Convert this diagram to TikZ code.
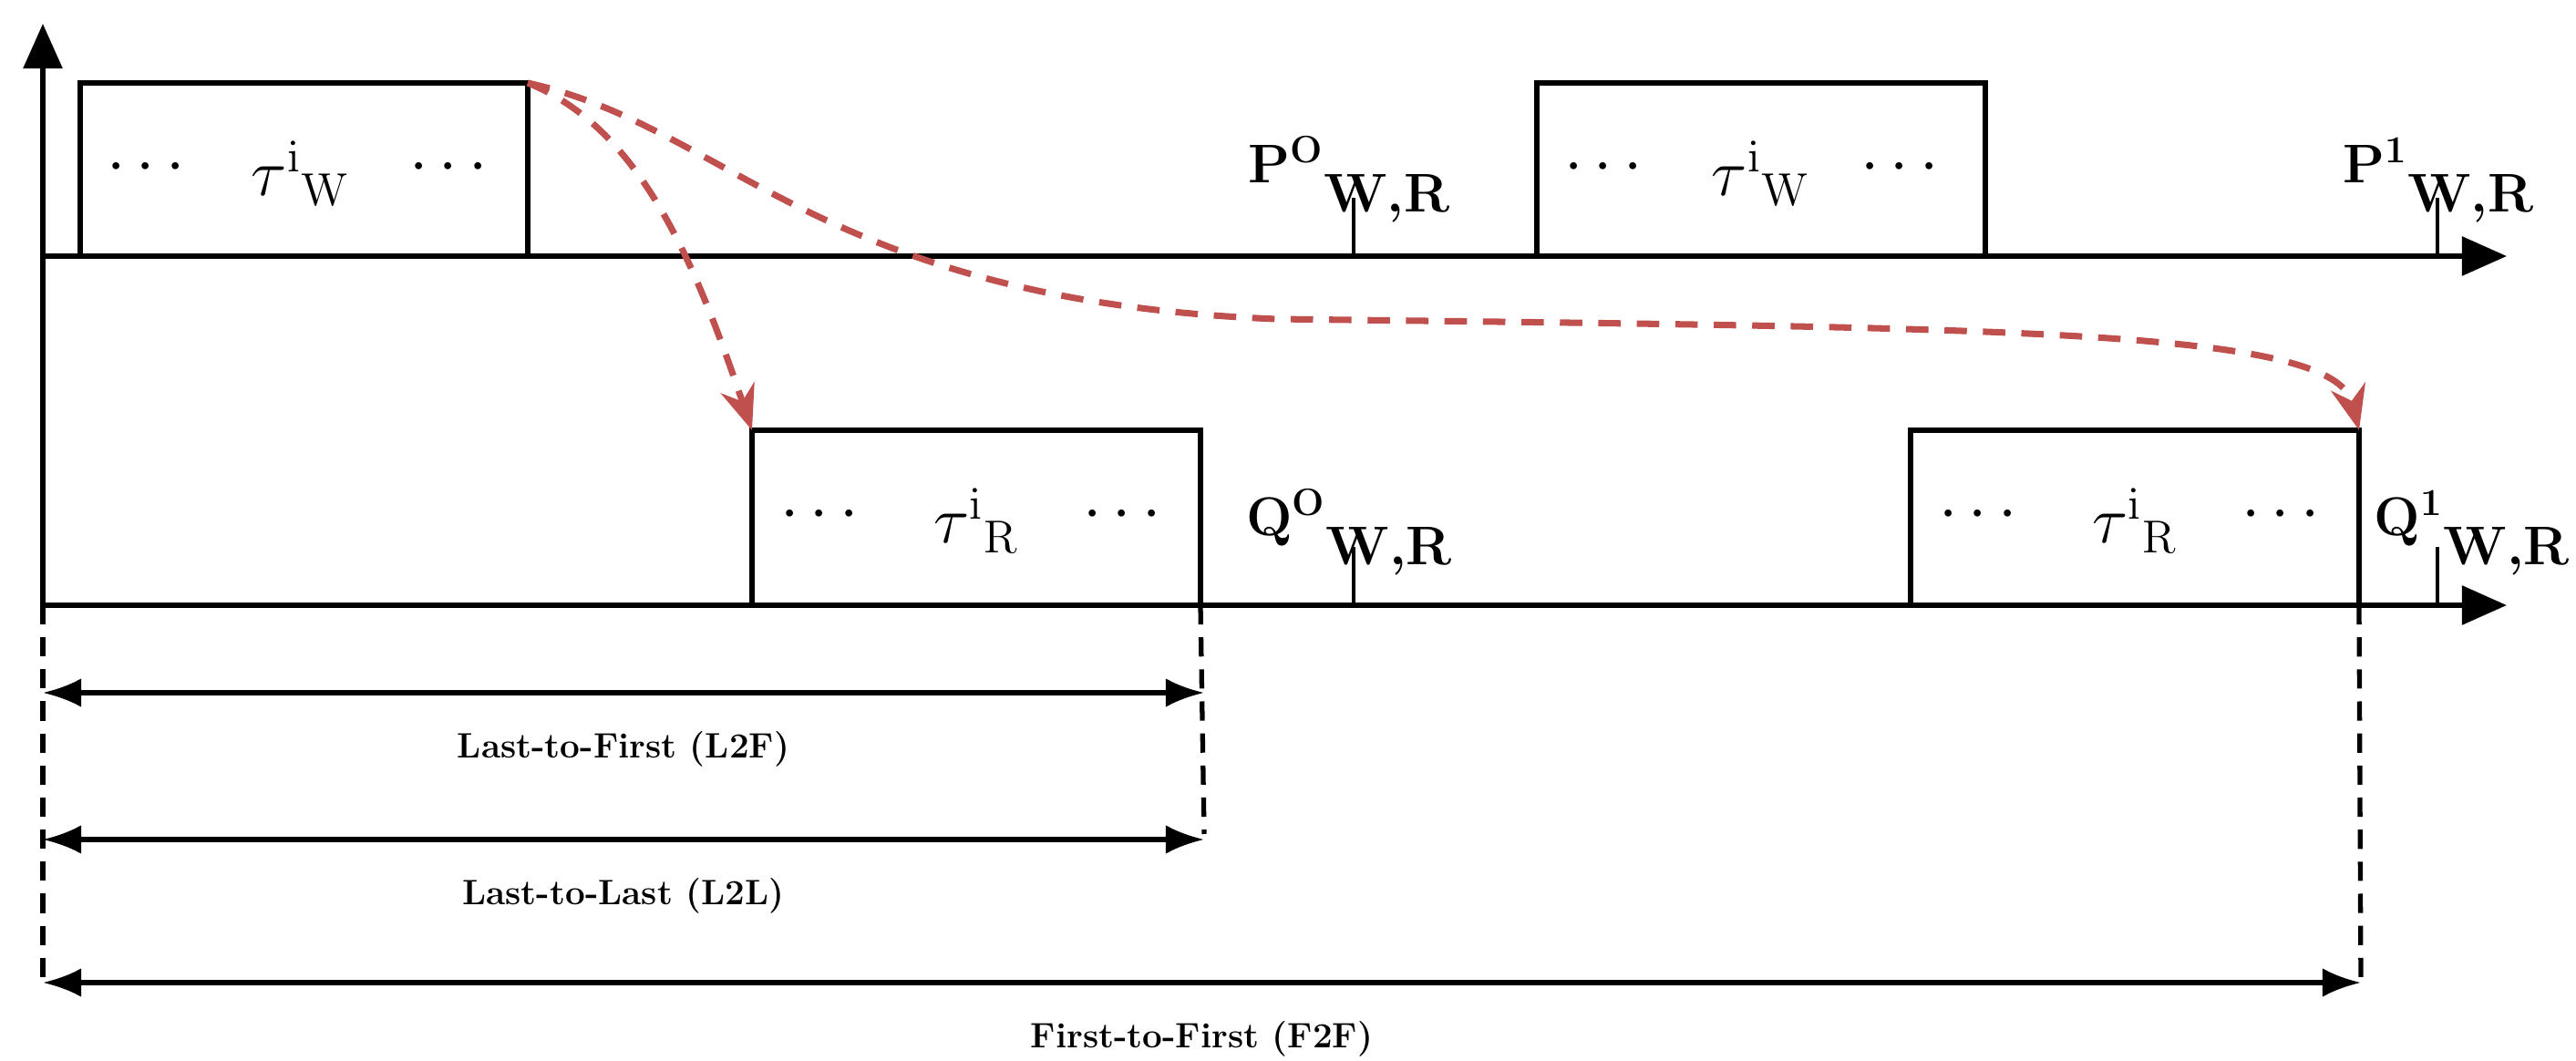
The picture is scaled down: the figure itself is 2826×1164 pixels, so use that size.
\documentclass[tikz,border=0pt]{standalone}
\usepackage{amsmath}
\usepackage{tikz}
\usetikzlibrary{arrows.meta}

\tikzset{
  axis/.style={line width=1.6pt,-{Triangle[length=14pt,width=12pt]}},
  slot/.style={line width=1.5pt},
  tick/.style={line width=1.4pt},
  flow/.style={line width=2pt,dashed,dash pattern=on 7pt off 5pt,draw=flowred,-{Stealth[length=14pt,width=11pt]}},
  dim/.style={line width=1.5pt,{Latex[length=12pt,width=9pt]}-{Latex[length=12pt,width=9pt]}},
  guide/.style={line width=1.5pt,dashed,dash pattern=on 6pt off 4pt},
  task/.style={font=\fontsize{20}{22}\selectfont},
  dots/.style={font=\fontsize{20}{22}\selectfont},
  inst/.style={font=\bfseries\fontsize{17}{19}\selectfont,anchor=base},
  lbl/.style={font=\bfseries\fontsize{11}{13}\selectfont}
}
\definecolor{flowred}{RGB}{192,80,77}

\begin{document}
\begin{tikzpicture}[x=0.01cm,y=-0.01cm]
\useasboundingbox (0,0) rectangle (2826,1164);

% axes
\coordinate (o) at (47,664);
\coordinate (w0) at (47,281);
\draw[axis] (47,664) -- (47,26);
\draw[axis] (w0) -- (2750,281);
\draw[axis] (o) -- (2750,664);

% writer slots
\draw[slot] (88,281) -- (88,91) coordinate (wa) -- (579,91) coordinate (wb) -- (579,281);
\draw[slot] (1686,281) -- (1686,91) -- (2178,91) -- (2178,281);
\node[dots] (dw1) at (166,184) {$\cdots$};
\node[task] (tw1) at (330,190) {$\tau^{\mathrm{i}}{}_{\mathrm{W}}$};
\node[dots] (dw2) at (498,184) {$\cdots$};
\node[dots] (dw3) at (1765,184) {$\cdots$};
\node[task] (tw2) at (1932,190) {$\tau^{\mathrm{i}}{}_{\mathrm{W}}$};
\node[dots] (dw4) at (2090,184) {$\cdots$};

% reader slots
\draw[slot] (825,664) -- (825,472) coordinate (ra) -- (1317,472) -- (1317,664) coordinate (rb);
\draw[slot] (2096,664) -- (2096,472) -- (2588,472) coordinate (rc) -- (2588,664) coordinate (rd);
\node[dots] (dr1) at (905,565) {$\cdots$};
\node[task] (tr1) at (1071,571) {$\tau^{\mathrm{i}}{}_{\mathrm{R}}$};
\node[dots] (dr2) at (1237,565) {$\cdots$};
\node[dots] (dr3) at (2176,565) {$\cdots$};
\node[task] (tr2) at (2342,571) {$\tau^{\mathrm{i}}{}_{\mathrm{R}}$};
\node[dots] (dr4) at (2508,565) {$\cdots$};

% ticks
\draw[tick] (1485,281) -- (1485,217);
\draw[tick] (2674,281) -- (2674,217);
\draw[tick] (1485,664) -- (1485,600);
\draw[tick] (2674,664) -- (2674,600);
\node[inst] (p0) at (1480,201) {P\textsuperscript{O}\raisebox{-1.2ex}{W,R}};
\node[inst] (p1) at (2675,201) {P\textsuperscript{1}\raisebox{-1.2ex}{W,R}};
\node[inst] (q0) at (1480,588) {Q\textsuperscript{O}\raisebox{-1.2ex}{W,R}};
\node[inst] (q1) at (2712,588) {Q\textsuperscript{1}\raisebox{-1.2ex}{W,R}};

% data flow
\draw[flow] (wb) .. controls (700,140) and (760,280) .. (ra);
\draw[flow] (wb) .. controls (800,140) and (900,330) .. (1400,350)
  .. controls (2200,360) and (2560,360) .. (rc);

% latencies
\coordinate (g0) at (47,1081);
\coordinate (g1) at (1321,915);
\coordinate (g2) at (2590,1081);
\draw[guide] (o) -- (g0);
\draw[guide] (rb) -- (g1);
\draw[guide] (rd) -- (g2);
\draw[dim] (47,760) -- node[lbl,below=8pt] {Last-to-First (L2F)} (1321,760);
\draw[dim] (47,921) -- node[lbl,below=8pt] {Last-to-Last (L2L)} (1321,921);
\draw[dim] (47,1078) -- node[lbl,below=8pt] {First-to-First (F2F)} (2590,1078);
\end{tikzpicture}
\end{document}
